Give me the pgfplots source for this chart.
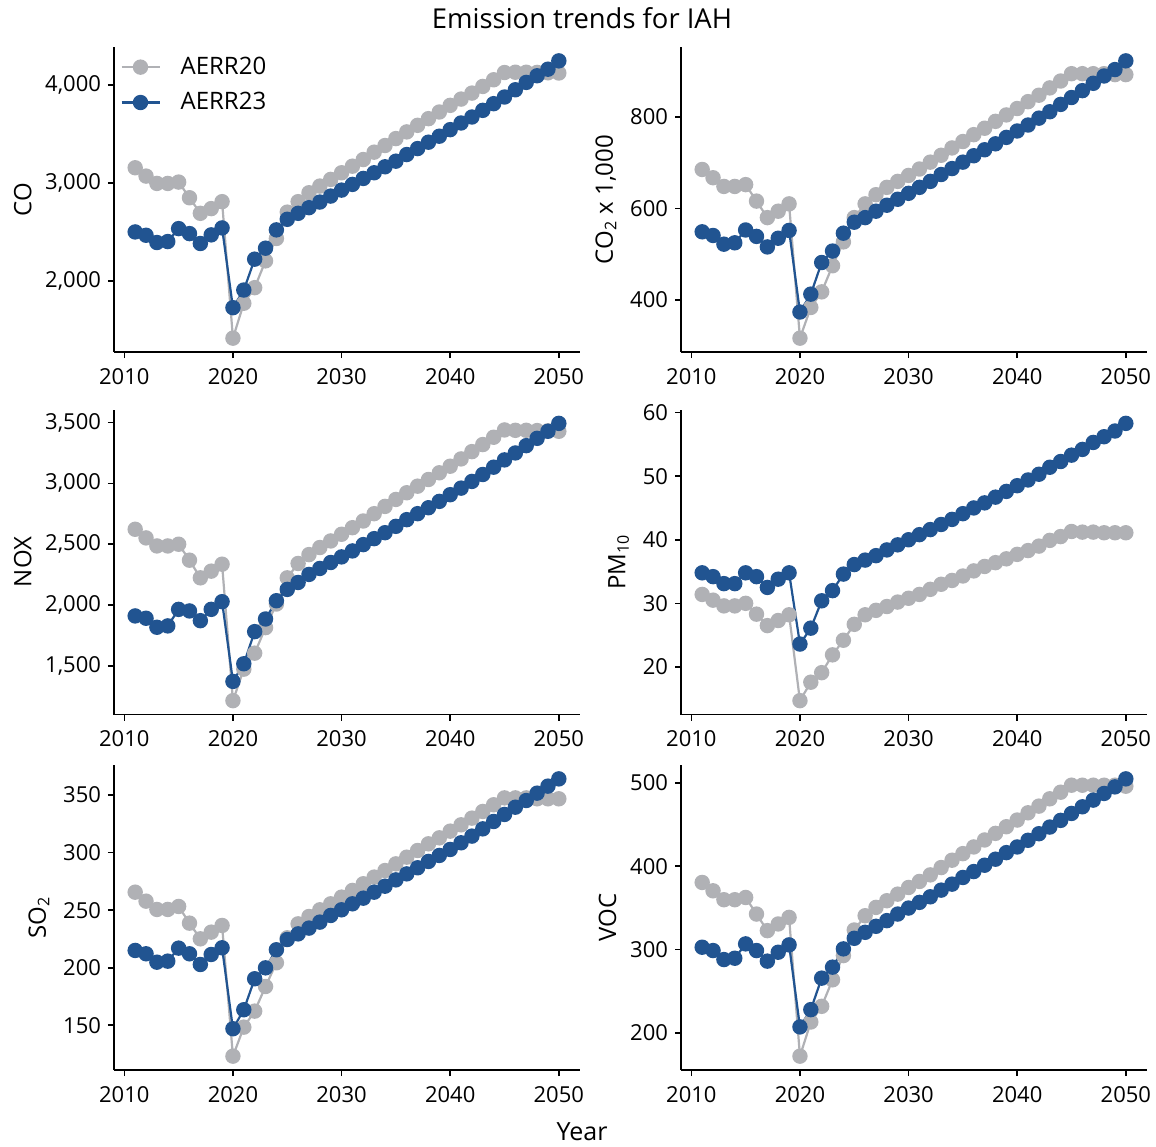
\documentclass[border=0pt]{standalone}
\usepackage{fontspec}
\setmainfont{Open Sans}
\usepackage{pgfplots}
\usepackage{pgfplotstable}
\pgfplotsset{compat=1.18}

\definecolor{aerrgrey}{RGB}{176,177,181}
\definecolor{aerrblue}{RGB}{33,84,145}

% Emissions per pollutant: year, AERR20, AERR23
\pgfplotstableread{
year a20 a23
2011 3153 2498
2012 3068 2464
2013 2993 2390
2014 2993 2400
2015 3007 2532
2016 2847 2481
2017 2688 2380
2018 2736 2468
2019 2807 2539
2020 1414 1725
2021 1770 1905
2022 1929 2220
2023 2203 2332
2024 2431 2519
2025 2700 2627
2026 2807 2688
2027 2898 2746
2028 2966 2803
2029 3034 2864
2030 3102 2925
2031 3169 2983
2032 3237 3044
2033 3312 3102
2034 3380 3163
2035 3451 3220
2036 3519 3288
2037 3586 3349
2038 3654 3414
2039 3722 3475
2040 3790 3542
2041 3854 3610
2042 3915 3671
2043 3983 3739
2044 4051 3807
2045 4125 3875
2046 4128 3949
2047 4128 4024
2048 4126 4092
2049 4122 4159
2050 4120 4244
}\tabCO

\pgfplotstableread{
year a20 a23
2011 685 549
2012 667 541
2013 648 522
2014 648 525
2015 652 553
2016 616 539
2017 580 516
2018 594 535
2019 610 552
2020 317 374
2021 384 413
2022 418 482
2023 475 507
2024 527 546
2025 580 570
2026 610 580
2027 630 594
2028 646 607
2029 659 620
2030 672 633
2031 686 646
2032 701 659
2033 716 674
2034 732 687
2035 746 701
2036 761 715
2037 775 728
2038 790 741
2039 804 755
2040 818 769
2041 833 782
2042 847 797
2043 863 811
2044 878 827
2045 894 842
2046 894 857
2047 894 873
2048 894 889
2049 892 903
2050 892 922
}\tabCOtwo

\pgfplotstableread{
year a20 a23
2011 2623 1911
2012 2552 1892
2013 2486 1818
2014 2486 1829
2015 2500 1965
2016 2369 1952
2017 2224 1872
2018 2279 1965
2019 2336 2028
2020 1215 1373
2021 1474 1518
2022 1605 1782
2023 1815 1886
2024 2009 2036
2025 2224 2129
2026 2342 2186
2027 2415 2252
2028 2473 2301
2029 2527 2350
2030 2582 2396
2031 2636 2445
2032 2691 2497
2033 2751 2546
2034 2811 2595
2035 2868 2647
2036 2923 2702
2037 2977 2751
2038 3032 2800
2039 3087 2852
2040 3141 2907
2041 3201 2961
2042 3261 3016
2043 3319 3073
2044 3379 3133
2045 3439 3193
2046 3436 3250
2047 3436 3310
2048 3434 3370
2049 3432 3428
2050 3428 3493
}\tabNOX

\pgfplotstableread{
year a20 a23
2011 31.4 34.8
2012 30.5 34.2
2013 29.6 33.1
2014 29.6 33.1
2015 30.0 34.8
2016 28.3 34.2
2017 26.5 32.5
2018 27.3 33.8
2019 28.2 34.8
2020 14.7 23.6
2021 17.6 26.1
2022 19.1 30.4
2023 21.9 32.0
2024 24.2 34.6
2025 26.7 36.1
2026 28.2 36.8
2027 28.9 37.5
2028 29.5 38.4
2029 30.2 39.2
2030 30.8 40.0
2031 31.4 40.8
2032 32.2 41.6
2033 33.0 42.4
2034 33.6 43.2
2035 34.3 44.1
2036 35.1 45.0
2037 35.8 45.8
2038 36.4 46.7
2039 37.0 47.6
2040 37.7 48.5
2041 38.3 49.4
2042 39.0 50.3
2043 39.9 51.4
2044 40.5 52.3
2045 41.3 53.3
2046 41.2 54.2
2047 41.2 55.3
2048 41.1 56.2
2049 41.1 57.1
2050 41.1 58.3
}\tabPM

\pgfplotstableread{
year a20 a23
2011 265.6 215.0
2012 257.8 212.1
2013 250.6 204.8
2014 250.6 205.7
2015 253.2 217.0
2016 238.7 212.1
2017 225.1 202.8
2018 230.9 211.5
2019 236.7 217.3
2020 123.2 147.0
2021 148.4 163.5
2022 162.3 190.4
2023 183.7 199.9
2024 204.3 215.6
2025 226.0 224.5
2026 238.1 229.4
2027 244.5 234.4
2028 250.3 239.6
2029 255.5 245.4
2030 261.3 250.3
2031 267.1 255.5
2032 272.9 260.4
2033 278.7 265.6
2034 284.4 270.8
2035 290.2 276.3
2036 296.0 281.5
2037 301.8 286.8
2038 307.6 292.3
2039 312.8 297.5
2040 318.6 302.7
2041 324.1 308.5
2042 329.9 314.3
2043 335.7 320.6
2044 341.5 327.0
2045 347.5 333.1
2046 347.5 339.4
2047 347.5 345.2
2048 346.7 351.6
2049 346.7 357.7
2050 346.7 364.0
}\tabSO

\pgfplotstableread{
year a20 a23
2011 380.5 302.8
2012 370.5 298.8
2013 359.8 288.0
2014 359.8 289.6
2015 362.5 306.8
2016 342.6 298.8
2017 322.7 286.1
2018 330.7 296.8
2019 338.6 305.6
2020 172.1 207.2
2021 213.1 227.9
2022 231.9 265.7
2023 263.7 278.9
2024 292.8 300.8
2025 323.5 313.5
2026 340.6 320.7
2027 350.6 327.9
2028 358.6 334.7
2029 366.5 342.6
2030 374.5 349.8
2031 381.7 356.6
2032 389.6 363.3
2033 398.4 371.3
2034 407.2 378.5
2035 415.1 386.5
2036 423.1 393.6
2037 431.5 401.2
2038 439.4 408.4
2039 447.4 416.3
2040 455.4 423.1
2041 464.1 431.1
2042 472.1 439.0
2043 480.9 447.0
2044 488.8 455.0
2045 497.2 463.3
2046 497.2 471.3
2047 497.2 479.3
2048 497.2 487.3
2049 497.2 495.2
2050 496.0 504.8
}\tabVOC

\pgfplotsset{
  panel/.style={
    scale only axis, width=233pt, height=152.5pt,
    anchor=south west,
    axis x line*=bottom, axis y line*=left,
    axis line style={line width=0.8pt, -},
    tick align=outside, major tick length=3pt,
    tick style={line width=0.8pt, black},
    xmin=2009.05, xmax=2051.95,
    enlarge y limits=0.05,
    xtick={2010,2020,2030,2040,2050},
    x tick label style={/pgf/number format/1000 sep={}, yshift=-1.5pt},
    y tick label style={/pgf/number format/1000 sep={,}},
    /pgf/number format/assume math mode=true,
    tick label style={font=\fontsize{11}{13}\selectfont},
    label style={font=\fontsize{12}{14}\selectfont},
    scaled y ticks=false,
    clip=false,
  },
  s20/.style={color=aerrgrey, line width=1.1pt, mark=*, mark size=3.3pt,
    mark options={solid, fill=aerrgrey, draw=aerrgrey}},
  s23/.style={color=aerrblue, line width=1.1pt, mark=*, mark size=3.3pt,
    mark options={solid, fill=aerrblue, draw=aerrblue}},
}

\begin{document}
\begin{tikzpicture}
\path[use as bounding box] (0pt,0pt) rectangle (578pt,-573pt);

% row 1
\begin{axis}[panel, at={(57pt,-176pt)}, ylabel={CO},
  ytick={2000,3000,4000},
  legend style={draw=none, fill=none, at={(axis description cs:0.0,0.995)}, anchor=north west,
    font=\fontsize{12}{14}\selectfont, row sep=3.5pt, column sep=8pt, legend cell align=left},
  legend image code/.code={\draw[mark repeat=2,mark phase=2,#1] plot coordinates {(0pt,0pt) (9.5pt,0pt) (19pt,0pt)};}]
\addplot[s20] table[x=year,y=a20] {\tabCO};
\addlegendentry{AERR20}
\addplot[s23] table[x=year,y=a23] {\tabCO};
\addlegendentry{AERR23}
\end{axis}

\begin{axis}[panel, at={(340.5pt,-176pt)}, ylabel={CO\textsubscript{2} x 1,000},
  ytick={400,600,800}]
\addplot[s20] table[x=year,y=a20] {\tabCOtwo};
\addplot[s23] table[x=year,y=a23] {\tabCOtwo};
\end{axis}

% row 2
\begin{axis}[panel, at={(57pt,-357.25pt)}, ylabel={NOX},
  ytick={1500,2000,2500,3000,3500}]
\addplot[s20] table[x=year,y=a20] {\tabNOX};
\addplot[s23] table[x=year,y=a23] {\tabNOX};
\end{axis}

\begin{axis}[panel, at={(340.5pt,-357.25pt)}, ylabel={PM\textsubscript{10}},
  ytick={20,30,40,50,60}]
\addplot[s20] table[x=year,y=a20] {\tabPM};
\addplot[s23] table[x=year,y=a23] {\tabPM};
\end{axis}

% row 3
\begin{axis}[panel, at={(57pt,-535pt)}, ylabel={SO\textsubscript{2}},
  ytick={150,200,250,300,350}]
\addplot[s20] table[x=year,y=a20] {\tabSO};
\addplot[s23] table[x=year,y=a23] {\tabSO};
\end{axis}

\begin{axis}[panel, at={(340.5pt,-535pt)}, ylabel={VOC},
  ytick={200,300,400,500}]
\addplot[s20] table[x=year,y=a20] {\tabVOC};
\addplot[s23] table[x=year,y=a23] {\tabVOC};
\end{axis}

\node[anchor=base, font=\fontsize{13.7}{16}\selectfont] at (291pt,-14pt) {Emission trends for IAH};
\node[anchor=base, font=\fontsize{12.5}{14}\selectfont] at (291pt,-570pt) {Year};
\end{tikzpicture}
\end{document}
